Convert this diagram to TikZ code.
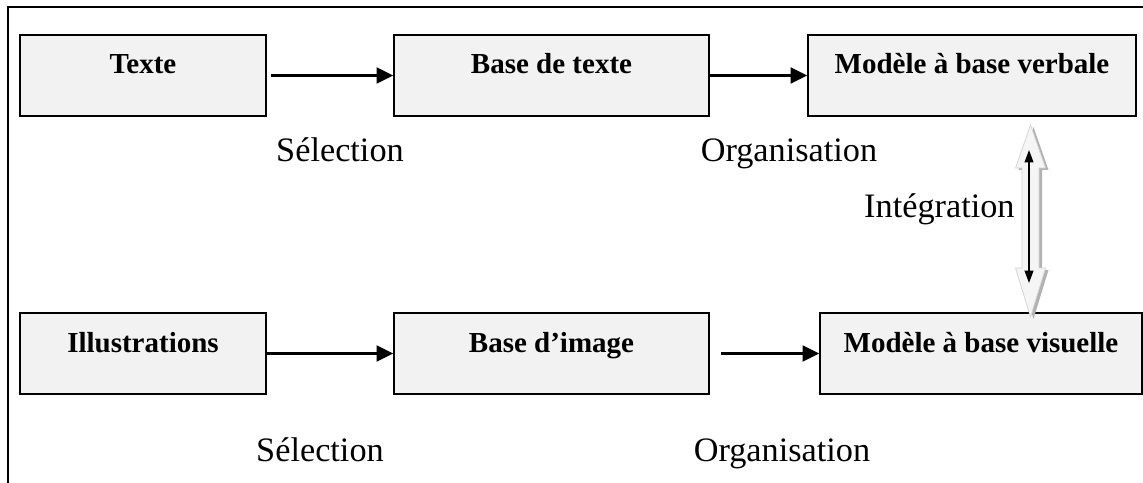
\documentclass[tikz,border=0pt]{standalone}
\usepackage{fontspec}
\setmainfont{Liberation Serif}
\usetikzlibrary{arrows.meta,positioning,calc}
\definecolor{boxfill}{RGB}{242,242,242}
\definecolor{ink}{RGB}{0,0,0}
\tikzset{
  >={Triangle[length=9.5pt,width=9pt]},
  box/.style={draw=ink,fill=boxfill,line width=0.9pt,inner sep=0pt,
    text height=7.8mm,text depth=8.4mm,minimum width=#1,
    align=center,font=\fontsize{16.5}{18}\selectfont\bfseries},
  box/.default=49.2mm,
  flow/.style={->,line width=1.5pt,draw=ink},
  tag/.style={anchor=base,font=\fontsize{19.5}{22}\selectfont},
  twin/.style={{Triangle[length=7pt,width=5pt]}-{Triangle[length=7pt,width=5pt]},line width=0.8pt},
  % light block arrow pointing both ways
  pics/twoway/.style={code={
    \fill[gray!60,shift={(3,2)}] (0,0) -- (15,43) -- (8.5,43) -- (8.5,143) -- (15,143) -- (0,192)
      -- (-15,143) -- (-8.5,143) -- (-8.5,43) -- (-15,43) -- cycle;
    \filldraw[fill=gray!8,draw=gray!35,thin] (0,0) -- (15,43) -- (8.5,43) -- (8.5,143) -- (15,143) -- (0,192)
      -- (-15,143) -- (-8.5,143) -- (-8.5,43) -- (-15,43) -- cycle;
  }},
}

\begin{document}
\begin{tikzpicture}[x=0.2mm,y=-0.2mm]
  \clip (0,0) rectangle (1143,483);
  \draw[line width=1.7pt] (8,7) rectangle (1170,510);

  % verbal row
  \node[box] (txt) at (143,75.5) {Texte};
  \node[box=63mm] (btxt) at (551.5,75.5) {Base de texte};
  \node[box=65.6mm] (verb) at (972,75.5) {Modèle à base verbale};
  \draw[flow,shorten <=0.8mm] (txt) -- (btxt);
  \draw[flow] (btxt) -- (verb);
  \node[tag] at (340,162) {Sélection};
  \node[tag] at (789,162) {Organisation};

  % pictorial row
  \node[box] (ill) at (143,353.5) {Illustrations};
  \node[box=63mm] (bimg) at (551.5,353.5) {Base d’image};
  \node[box=64.4mm] (vis) at (981,353.5) {Modèle à base visuelle};
  \draw[flow] (ill) -- (bimg);
  \draw[flow,shorten <=2.2mm] (bimg) -- (vis);
  \node[tag] at (320,461) {Sélection};
  \node[tag] at (782,461) {Organisation};

  % integration between both models
  \pic at (1030.5,125) {twoway};
  \coordinate (iup) at (1029,150);
  \coordinate (idn) at (1029,283);
  \draw[twin] (iup) -- (idn);
  \node[tag,anchor=base west] at (858,218) {Intégration};
\end{tikzpicture}
\end{document}
